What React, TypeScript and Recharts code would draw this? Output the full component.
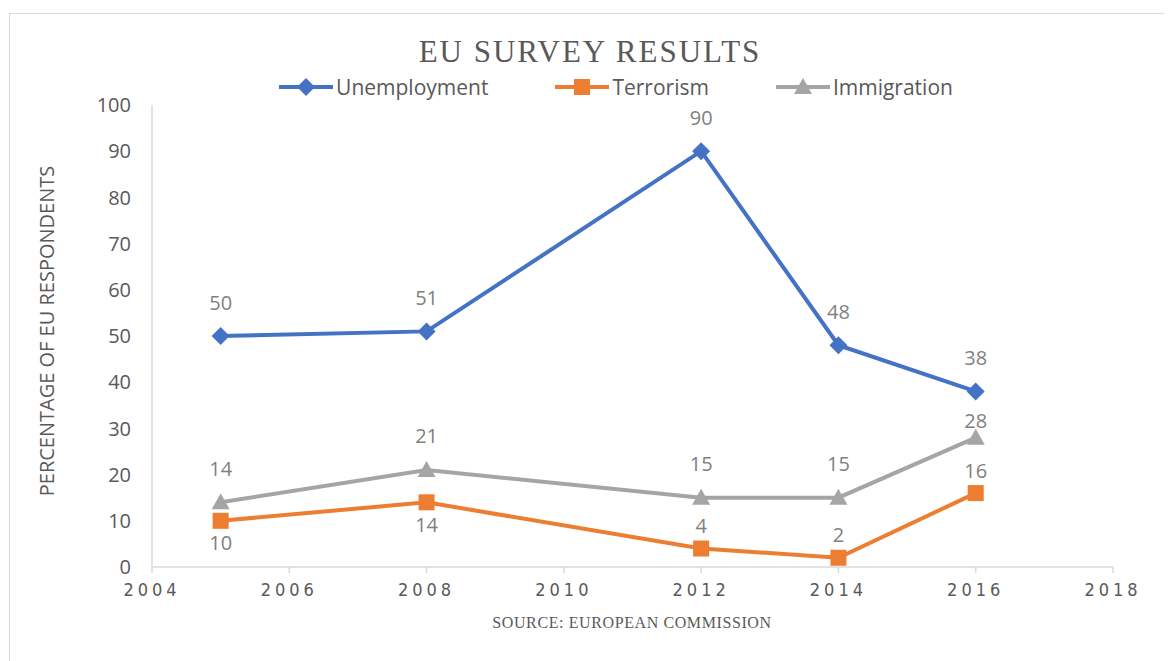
import React from 'react';
import { LineChart, Line, XAxis, YAxis, Legend, LabelList } from 'recharts';

const years = [2005, 2008, 2012, 2014, 2016];
const unemployment = [50, 51, 90, 48, 38];
const terrorism = [10, 14, 4, 2, 16];
const immigration = [14, 21, 15, 15, 28];
const xTicks = [2004, 2006, 2008, 2010, 2012, 2014, 2016, 2018];
const yTicks = [0, 10, 20, 30, 40, 50, 60, 70, 80, 90, 100];

const data = years.map((year, i) => ({
  year,
  Unemployment: unemployment[i],
  Terrorism: terrorism[i],
  Immigration: immigration[i],
}));

const BLUE = '#4472C4';
const ORANGE = '#ED7D31';
const GRAY = '#A5A5A5';
const TEXT = '#595959';
const LABEL = '#7F7F7F';
const AXIS = '#D9D9D9';
const SANS = "'Open Sans', 'Noto Sans', sans-serif";
const NARROW = "'Liberation Sans Narrow', 'DejaVu Sans Condensed', 'Liberation Sans', sans-serif";
const SERIF = "'Liberation Serif', 'DejaVu Serif', serif";

// marker shapes, Excel style
const Diamond = ({ cx, cy, fill }: any) => (
  <polygon points={`${cx},${cy - 9} ${cx + 9},${cy} ${cx},${cy + 9} ${cx - 9},${cy}`} fill={fill} />
);
const Square = ({ cx, cy, fill }: any) => (
  <rect x={cx - 8} y={cy - 8} width={16} height={16} fill={fill} />
);
const Triangle = ({ cx, cy, fill }: any) => (
  <polygon points={`${cx},${cy - 9} ${cx + 9},${cy + 7} ${cx - 9},${cy + 7}`} fill={fill} />
);

const series = [
  { key: 'Unemployment', color: BLUE, Marker: Diamond },
  { key: 'Terrorism', color: ORANGE, Marker: Square },
  { key: 'Immigration', color: GRAY, Marker: Triangle },
];

// label offsets (above = negative)
const labelDy: Record<string, (i: number) => number> = {
  Unemployment: () => -34,
  Terrorism: (i) => (i < 2 ? 22 : -23),
  Immigration: (i) => (i === 4 ? -17 : -34),
};

const makeLabel = (key: string) => (props: any) => {
  const { x, y, value, index } = props;
  return (
    <text
      x={x}
      y={y + labelDy[key](index)}
      textAnchor="middle"
      dominantBaseline="central"
      fill={LABEL}
      fontSize={20}
      fontFamily={SANS}
    >
      {value}
    </text>
  );
};

const LegendContent = () => (
  <div style={{ display: 'flex', justifyContent: 'center', gap: 66, fontFamily: SANS, fontSize: 21, color: TEXT }}>
    {series.map(({ key, color, Marker }) => (
      <div key={key} style={{ display: 'flex', alignItems: 'center' }}>
        <svg width={56} height={20}>
          <line x1={1} y1={10} x2={55} y2={10} stroke={color} strokeWidth={4} />
          <Marker cx={28} cy={10} fill={color} />
        </svg>
        <span style={{ marginLeft: 2 }}>{key}</span>
      </div>
    ))}
  </div>
);

export default function App() {
  return (
    <div
      style={{
        marginTop: 5,
        marginLeft: 1,
        width: 1155,
        height: 660,
        border: `1px solid ${AXIS}`,
        background: '#fff',
      }}
    >
      <LineChart width={1155} height={646} data={data} margin={{ top: 63, right: 52, left: 0, bottom: 0 }}>
        <text
          x={580}
          y={48}
          textAnchor="middle"
          fill={TEXT}
          fontSize={31}
          letterSpacing={2}
          fontFamily={SERIF}
        >
          EU SURVEY RESULTS
        </text>
        <text
          x={622}
          y={614}
          textAnchor="middle"
          fill={TEXT}
          fontSize={16}
          letterSpacing={0.6}
          fontFamily={SERIF}
        >
          SOURCE: EUROPEAN COMMISSION
        </text>
        <text
          x={0}
          y={0}
          transform="translate(36, 317) rotate(-90)"
          textAnchor="middle"
          dominantBaseline="central"
          fill={TEXT}
          fontSize={20}
          fontFamily={SANS}
        >
          PERCENTAGE OF EU RESPONDENTS
        </text>
        <Legend
          verticalAlign="top"
          content={<LegendContent />}
          wrapperStyle={{ position: 'absolute', top: 59, left: 28, width: 1155 }}
        />
        <XAxis
          dataKey="year"
          type="number"
          domain={[2004, 2018]}
          ticks={xTicks}
          height={93}
          axisLine={{ stroke: AXIS, strokeWidth: 1.5 }}
          tickLine={{ stroke: AXIS, strokeWidth: 1.5 }}
          tickSize={6}
          tickMargin={10}
          tick={{ fill: TEXT, fontSize: 18, fontFamily: NARROW, letterSpacing: 4 }}
        />
        <YAxis
          type="number"
          domain={[0, 100]}
          ticks={yTicks}
          width={142}
          axisLine={{ stroke: AXIS, strokeWidth: 1.5 }}
          tickLine={false}
          tickSize={0}
          tickMargin={21}
          tick={{ fill: TEXT, fontSize: 20, fontFamily: SANS }}
        />
        {series.map(({ key, color, Marker }) => (
          <Line
            key={key}
            dataKey={key}
            stroke={color}
            strokeWidth={4}
            dot={(p: any) => <Marker key={`${key}-${p.index}`} cx={p.cx} cy={p.cy} fill={color} />}
            activeDot={false}
            isAnimationActive={false}
          >
            <LabelList dataKey={key} content={makeLabel(key)} />
          </Line>
        ))}
      </LineChart>
    </div>
  );
}
